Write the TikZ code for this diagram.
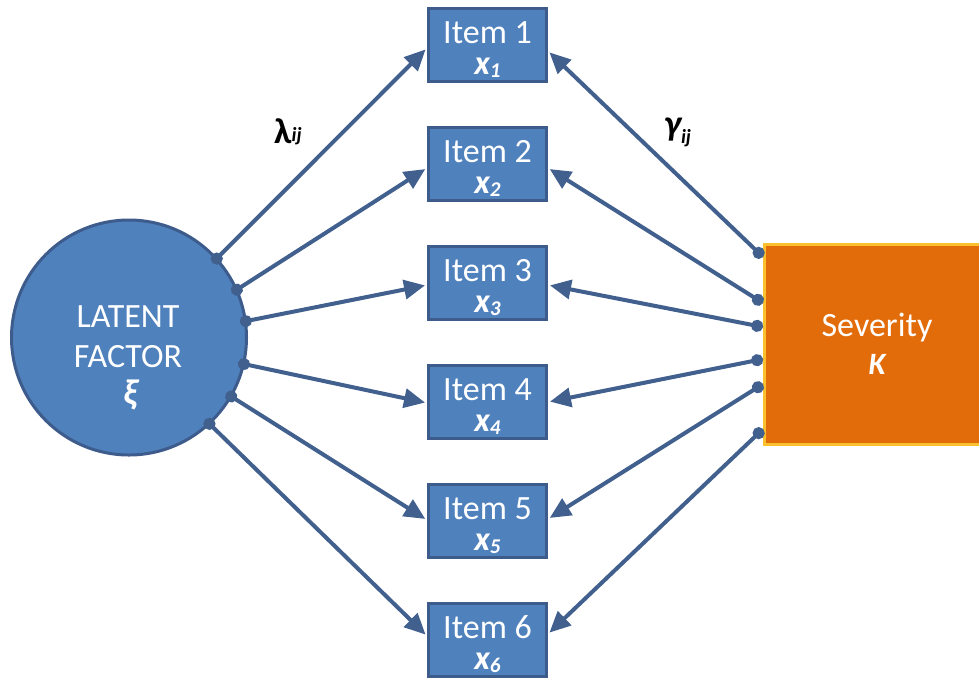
\documentclass[tikz,border=0pt]{standalone}
\usepackage{fontspec}
\setmainfont{Carlito}
\usetikzlibrary{arrows.meta,calc}
\definecolor{boxblue}{HTML}{4F81BD}
\definecolor{edgeblue}{HTML}{3D5C8C}
\definecolor{linkblue}{HTML}{41608E}
\definecolor{sevorange}{HTML}{E36C0A}
\definecolor{sevgold}{HTML}{FBC02D}
\tikzset{
  itembox/.style={draw=edgeblue, fill=boxblue, line width=3pt,
    minimum width=118pt, minimum height=73pt, inner sep=0pt},
  wtext/.style={text=white, inner sep=0pt, anchor=base},
  bigtxt/.style={font=\fontsize{34}{34}\selectfont},
  link/.style={draw=linkblue, line width=4pt,
    {Circle[length=12pt,width=12pt]}-{Triangle[length=21pt,width=19pt]},
    shorten >=2pt},
}
\begin{document}
\begin{tikzpicture}[x=1pt,y=-1pt]
\useasboundingbox (0,0) rectangle (979,678);

% latent factor
\node[circle, draw=edgeblue, fill=boxblue, line width=3pt,
      minimum size=235pt, inner sep=0pt] (lf) at (129,337.5) {};
\node[wtext,bigtxt] (lf1) at (128,327) {LATENT};
\node[wtext,bigtxt] (lf2) at (128,367) {FACTOR};
\node[wtext] (lf3) at (130,404) {\fontsize{36}{36}\selectfont\bfseries\itshape ξ};

% severity
\node[draw=sevgold, fill=sevorange, line width=3pt, minimum width=226pt,
      minimum height=200pt, inner sep=0pt] (sev) at (877.5,344.5) {};
\node[wtext,bigtxt] (sev1) at (877,336) {Severity};
\node[wtext] (sev2) at (877,374) {\fontsize{31}{31}\selectfont\bfseries\itshape K};

% items
\foreach \k in {1,...,6} {
  \pgfmathsetmacro\cy{45+119*(\k-1)}
  \node[itembox] (i\k) at (487.5,\cy) {};
  \node[wtext,bigtxt] (i\k t) at (487.5,\cy-2) {Item \k};
  \node[wtext] (i\k x) at (487.5,\cy+29)
    {\fontsize{34}{34}\selectfont\bfseries\itshape x\raisebox{-3pt}{\fontsize{21}{21}\selectfont \k}};
}

% loadings from the latent factor
\draw[link, shorten <=-7pt] (lf.42)  -- ($(i1.west)+(0,3)$);
\draw[link, shorten <=-7pt] (lf.24)  -- ($(i2.west)+(0,4)$);
\draw[link, shorten <=-7pt] (lf.8)   -- ($(i3.west)+(0,2)$);
\draw[link, shorten <=-7pt] (lf.-13) -- ($(i4.west)+(0,1)$);
\draw[link, shorten <=-7pt] (lf.-30) -- ($(i5.west)+(0,-1)$);
\draw[link, shorten <=-7pt] (lf.-47) -- ($(i6.west)+(0,-4)$);

% severity paths
\coordinate (s1) at (763,257);
\coordinate (s2) at (763,303);
\coordinate (s3) at (763,327);
\coordinate (s4) at (763,359);
\coordinate (s5) at (763,384);
\coordinate (s6) at (763,429);
\draw[link] (s1) -- ($(i1.east)+(0,6)$);
\draw[link] (s2) -- ($(i2.east)+(0,4)$);
\draw[link] (s3) -- ($(i3.east)+(0,2)$);
\draw[link] (s4) -- ($(i4.east)+(0,0)$);
\draw[link] (s5) -- ($(i5.east)+(0,-2)$);
\draw[link] (s6) -- ($(i6.east)+(0,-6)$);

% coefficient labels
\node[anchor=base west, inner sep=0pt] (lam) at (274,143)
  {\fontsize{36}{36}\selectfont\bfseries λ\raisebox{2pt}{\fontsize{20}{20}\selectfont\itshape ij}};
\node[anchor=base west, inner sep=0pt] (gam) at (664,135)
  {\fontsize{36}{36}\selectfont\bfseries\itshape γ\raisebox{-8pt}{\fontsize{20}{20}\selectfont ij}};
\end{tikzpicture}
\end{document}
